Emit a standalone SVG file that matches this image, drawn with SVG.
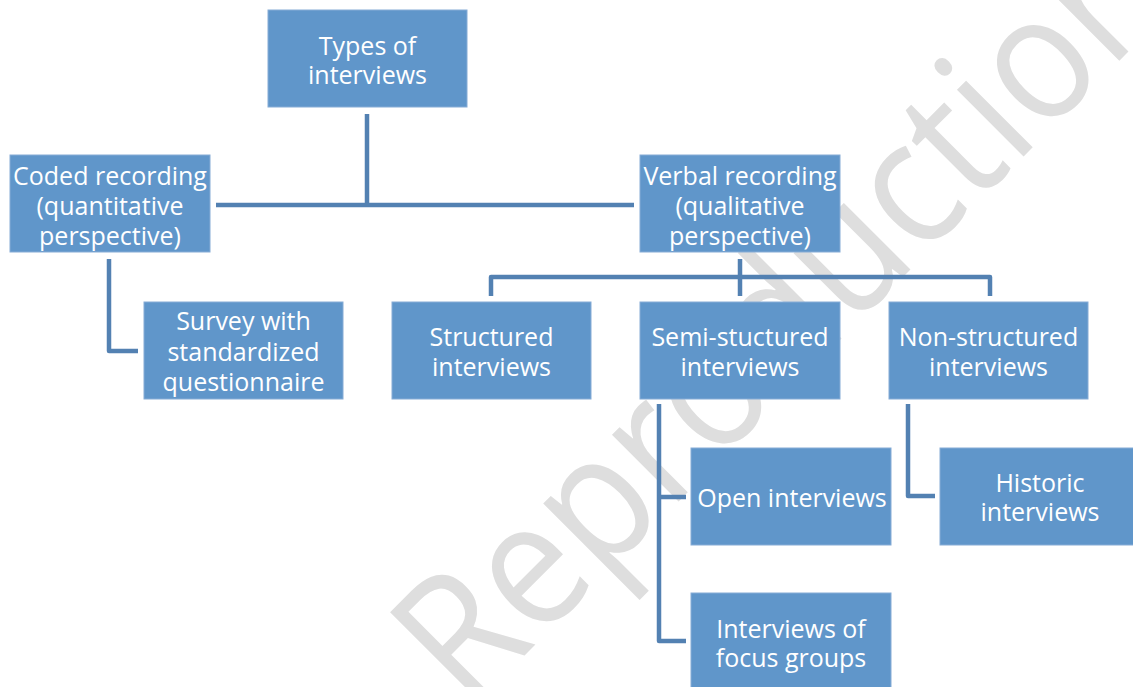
<svg xmlns="http://www.w3.org/2000/svg" width="1133" height="687" viewBox="0 0 1133 687">
<style>
.box{fill:#6096ca;stroke:#86acd6;stroke-width:1}
.lbl{font-family:"Open Sans","Noto Sans","DejaVu Sans",sans-serif;font-size:25px;fill:#ffffff;text-anchor:middle}
.con{fill:none;stroke:#5381b2;stroke-width:4.5;stroke-linejoin:round}
.wm{font-family:"Open Sans","Noto Sans",sans-serif;font-size:176px;fill:#dedede}
</style>
<rect width="1133" height="687" fill="#ffffff"/>
<text class="wm" transform="translate(468,712) rotate(-45)" x="0" y="0" textLength="1005" lengthAdjust="spacingAndGlyphs">Reproduction</text>
<g id="connectors">
<path class="con" d="M367,114 V206 M216,205 H634"/>
<path class="con" d="M740,259 V296 M491,296 V277 H990 V296"/>
<path class="con" d="M109,259 V351 H138"/>
<path class="con" d="M659,404 V641 H686 M659,497 H686"/>
<path class="con" d="M908,404 V496 H935"/>
</g>
<g id="types"><rect class="box" x="268" y="10" width="199" height="97"/><text class="lbl" x="367.5" y="55">Types of</text><text class="lbl" x="367.5" y="84">interviews</text></g>
<g id="coded"><rect class="box" x="10" y="155" width="200" height="97"/><text class="lbl" x="110" y="185">Coded recording</text><text class="lbl" x="110" y="215">(quantitative</text><text class="lbl" x="110" y="245">perspective)</text></g>
<g id="verbal"><rect class="box" x="640" y="155" width="200" height="97"/><text class="lbl" x="740" y="185">Verbal recording</text><text class="lbl" x="740" y="215">(qualitative</text><text class="lbl" x="740" y="245">perspective)</text></g>
<g id="survey"><rect class="box" x="144" y="302" width="199" height="97"/><text class="lbl" x="243.5" y="330">Survey with</text><text class="lbl" x="243.5" y="361">standardized</text><text class="lbl" x="243.5" y="391">questionnaire</text></g>
<g id="structured"><rect class="box" x="392" y="302" width="199" height="97"/><text class="lbl" x="491.5" y="346">Structured</text><text class="lbl" x="491.5" y="376">interviews</text></g>
<g id="semi"><rect class="box" x="640" y="302" width="200" height="97"/><text class="lbl" x="740" y="346">Semi-stuctured</text><text class="lbl" x="740" y="376">interviews</text></g>
<g id="nonstructured"><rect class="box" x="889" y="302" width="199" height="97"/><text class="lbl" x="988.5" y="346">Non-structured</text><text class="lbl" x="988.5" y="376">interviews</text></g>
<g id="open"><rect class="box" x="691" y="448" width="200" height="97"/><text class="lbl" x="792" y="507">Open interviews</text></g>
<g id="historic"><rect class="box" x="940" y="448" width="199" height="97"/><text class="lbl" x="1040" y="492">Historic</text><text class="lbl" x="1040" y="521">interviews</text></g>
<g id="focus"><rect class="box" x="691" y="593" width="200" height="97"/><text class="lbl" x="791" y="638">Interviews of</text><text class="lbl" x="791" y="667">focus groups</text></g>
</svg>
